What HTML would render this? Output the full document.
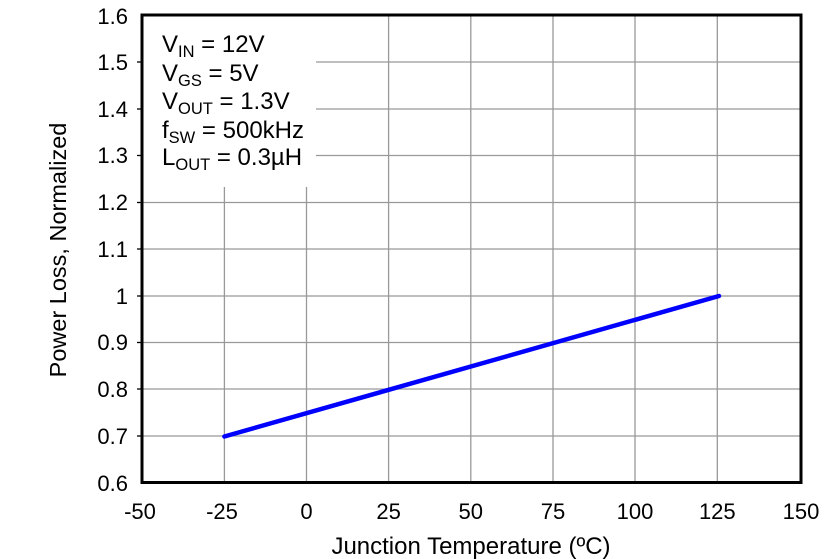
<!DOCTYPE html>
<html><head><style>body{margin:0;background:#fff}svg{display:block}</style></head><body>
<svg width="839" height="559" xmlns="http://www.w3.org/2000/svg" font-family="Liberation Sans, Arial, sans-serif">
<rect width="839" height="559" fill="#fff"/>
<g stroke="#999" stroke-width="1.3">
<line x1="224.4" y1="187" x2="224.4" y2="482"/>
<line x1="306.5" y1="187" x2="306.5" y2="482"/>
<line x1="388.6" y1="15" x2="388.6" y2="482"/>
<line x1="470.8" y1="15" x2="470.8" y2="482"/>
<line x1="553" y1="15" x2="553" y2="482"/>
<line x1="635" y1="15" x2="635" y2="482"/>
<line x1="717.3" y1="15" x2="717.3" y2="482"/>
<line x1="316" y1="62" x2="801" y2="62"/>
<line x1="316" y1="109" x2="801" y2="109"/>
<line x1="316" y1="155.5" x2="801" y2="155.5"/>
<line x1="142" y1="202.5" x2="801" y2="202.5"/>
<line x1="142" y1="249" x2="801" y2="249"/>
<line x1="142" y1="296" x2="801" y2="296"/>
<line x1="142" y1="342.5" x2="801" y2="342.5"/>
<line x1="142" y1="389" x2="801" y2="389"/>
<line x1="142" y1="436" x2="801" y2="436"/>
</g>
<g stroke="#000" stroke-width="1.3">
<line x1="137" y1="62" x2="142" y2="62"/><line x1="137" y1="109" x2="142" y2="109"/>
<line x1="137" y1="155.5" x2="142" y2="155.5"/><line x1="137" y1="202.5" x2="142" y2="202.5"/>
<line x1="137" y1="249" x2="142" y2="249"/><line x1="137" y1="296" x2="142" y2="296"/>
<line x1="137" y1="342.5" x2="142" y2="342.5"/><line x1="137" y1="389" x2="142" y2="389"/>
<line x1="137" y1="436" x2="142" y2="436"/>
</g>
<line x1="224.4" y1="436.5" x2="719" y2="296" stroke="#0000ff" stroke-width="4.5" stroke-linecap="round"/>
<rect x="142" y="15" width="659" height="467.5" fill="none" stroke="#000" stroke-width="3"/>
<g font-size="22" fill="#000" text-anchor="end">
<text x="128" y="24">1.6</text><text x="128" y="70">1.5</text><text x="128" y="117">1.4</text>
<text x="128" y="163">1.3</text><text x="128" y="210">1.2</text><text x="128" y="257">1.1</text>
<text x="128" y="304">1</text><text x="128" y="350">0.9</text><text x="128" y="397">0.8</text>
<text x="128" y="444">0.7</text><text x="128" y="491">0.6</text>
</g>
<g font-size="22" fill="#000" text-anchor="middle">
<text x="140" y="519">-50</text><text x="222" y="519">-25</text><text x="306.5" y="519">0</text>
<text x="388.6" y="519">25</text><text x="470.8" y="519">50</text><text x="553" y="519">75</text>
<text x="635" y="519">100</text><text x="717.3" y="519">125</text><text x="801" y="519">150</text>
</g>
<text x="471" y="554" font-size="24" text-anchor="middle">Junction Temperature (ºC)</text>
<text transform="translate(66,250) rotate(-90)" font-size="23.5" text-anchor="middle">Power Loss, Normalized</text>
<g font-size="24" fill="#000">
<text x="162" y="52">V<tspan font-size="16.5" dy="5">IN</tspan><tspan dy="-5"> = 12V</tspan></text>
<text x="162" y="81">V<tspan font-size="16.5" dy="5">GS</tspan><tspan dy="-5"> = 5V</tspan></text>
<text x="162" y="109">V<tspan font-size="16.5" dy="5">OUT</tspan><tspan dy="-5"> = 1.3V</tspan></text>
<text x="162" y="138">f<tspan font-size="16.5" dy="5">SW</tspan><tspan dy="-5"> = 500kHz</tspan></text>
<text x="162" y="165">L<tspan font-size="16.5" dy="5">OUT</tspan><tspan dy="-5"> = 0.3µH</tspan></text>
</g>
</svg>
</body></html>
